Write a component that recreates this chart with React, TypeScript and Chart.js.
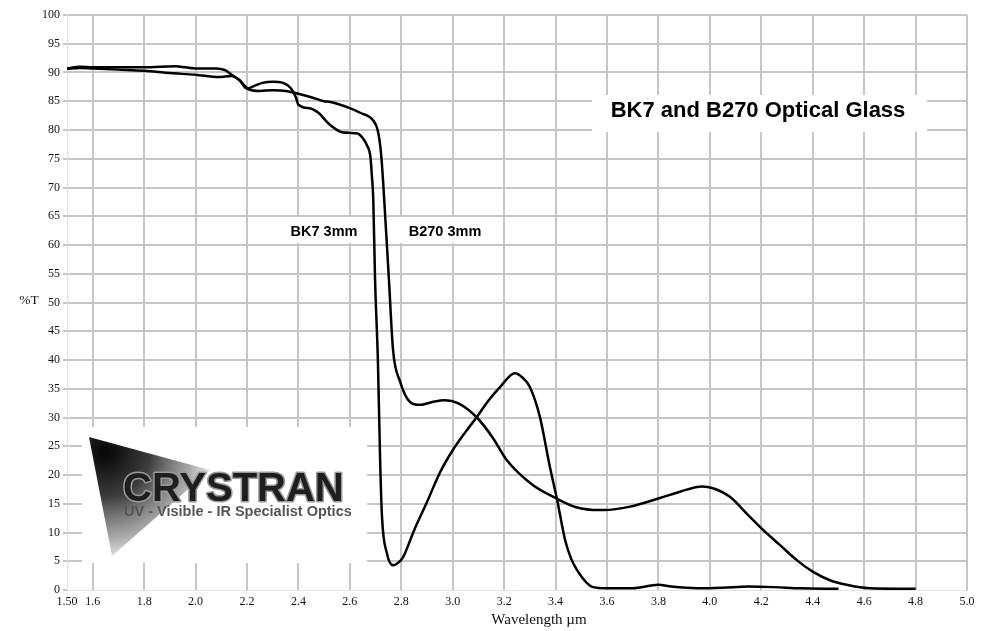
import { useEffect, useRef } from 'react';
import { Chart, registerables } from 'chart.js';

Chart.register(...registerables);

// BK7 3mm transmission curve
const bk7Wavelength = [
  1.50, 1.55, 1.60, 1.70, 1.80, 1.90, 2.00, 2.09, 2.14, 2.17, 2.20, 2.22, 2.26, 2.30, 2.34, 2.37,
  2.39, 2.40, 2.45, 2.48, 2.52, 2.57, 2.60, 2.63, 2.65, 2.667, 2.68, 2.686, 2.691, 2.698, 2.709,
  2.718, 2.725, 2.744, 2.768, 2.79, 2.807, 2.85, 2.90, 2.95, 3.00, 3.05, 3.094, 3.14, 3.184, 3.242,
  3.27, 3.30, 3.339, 3.378, 3.406, 3.437, 3.46, 3.483, 3.52, 3.546, 3.60, 3.70, 3.80, 3.85, 3.95,
  4.05, 4.15, 4.25, 4.35, 4.50,
];
const bk7Transmission = [
  90.6, 90.8, 90.7, 90.5, 90.3, 89.9, 89.6, 89.2, 89.4, 88.7, 87.2, 87.5, 88.2, 88.4, 88.2, 87.3,
  85.7, 84.4, 83.7, 82.9, 81.0, 79.6, 79.5, 79.4, 78.6, 77.3, 75.3, 71.8, 68.0, 54.0, 40.0,
  22.0, 12.7, 6.4, 4.3, 4.8, 5.7, 10.4, 15.3, 20.4, 24.3, 27.5, 30.1, 33.0, 35.3, 37.7,
  37.0, 35.3, 30.1, 21.4, 15.7, 8.7, 5.5, 3.5, 1.3, 0.5, 0.3, 0.3, 0.9, 0.6, 0.3,
  0.4, 0.6, 0.5, 0.3, 0.2,
];

// B270 3mm transmission curve
const b270Wavelength = [
  1.50, 1.55, 1.60, 1.70, 1.80, 1.92, 2.00, 2.08, 2.115, 2.14, 2.17, 2.21, 2.25, 2.30, 2.35, 2.40,
  2.45, 2.50, 2.52, 2.60, 2.64, 2.69, 2.708, 2.72, 2.729, 2.752, 2.768, 2.795, 2.834, 2.873, 2.93,
  2.97, 3.02, 3.094, 3.157, 3.21, 3.31, 3.40, 3.48, 3.57, 3.59, 3.69, 3.806, 3.884, 3.97, 4.012,
  4.078, 4.143, 4.208, 4.273, 4.338, 4.40, 4.467, 4.532, 4.62, 4.80,
];
const b270Transmission = [
  90.7, 91.0, 90.9, 90.9, 90.9, 91.1, 90.7, 90.7, 90.4, 89.6, 88.7, 87.0, 86.8, 86.9, 86.8, 86.3,
  85.7, 85.0, 84.9, 83.8, 83.0, 81.7, 80.0, 76.5, 71.3, 53.9, 41.7, 36.3, 32.7, 32.2, 32.8,
  33.0, 32.5, 30.0, 26.4, 22.6, 18.3, 16.0, 14.4, 13.9, 13.9, 14.5, 16.0, 17.1, 18.0, 17.7,
  16.2, 13.3, 10.4, 7.8, 5.2, 3.2, 1.7, 0.9, 0.3, 0.2,
];

const xTickValues = [1.5, 1.6, 1.8, 2.0, 2.2, 2.4, 2.6, 2.8, 3.0, 3.2, 3.4, 3.6, 3.8, 4.0, 4.2, 4.4, 4.6, 4.8, 5.0];
const xTickLabels = ['1.50', '1.6', '1.8', '2.0', '2.2', '2.4', '2.6', '2.8', '3.0', '3.2', '3.4', '3.6', '3.8', '4.0', '4.2', '4.4', '4.6', '4.8', '5.0'];
const yTickValues = [0, 5, 10, 15, 20, 25, 30, 35, 40, 45, 50, 55, 60, 65, 70, 75, 80, 85, 90, 95, 100];

const chartTitle = 'BK7 and B270 Optical Glass';
const seriesLabels = ['BK7 3mm', 'B270 3mm'];
const yAxisTitle = '%T';
const xAxisTitle = 'Wavelength µm';
const logoName = 'CRYSTRAN';
const logoTagline = 'UV - Visible - IR Specialist Optics';

const GRID = '#c6c6c6';
const SERIF = "'Liberation Serif', 'DejaVu Serif', serif";
const SANS = "'Liberation Sans', Arial, sans-serif";

const overlayPlugin = {
  id: 'overlay',
  beforeDatasetsDraw(chart: any) {
    const ctx = chart.ctx as CanvasRenderingContext2D;
    ctx.save();
    // title box
    ctx.fillStyle = '#ffffff';
    ctx.fillRect(592, 95, 335, 37);
    ctx.fillStyle = '#000';
    ctx.font = `bold 22px ${SANS}`;
    ctx.textAlign = 'center';
    ctx.textBaseline = 'middle';
    ctx.fillText(chartTitle, 758, 111);

    // series label boxes
    ctx.fillStyle = '#ffffff';
    ctx.fillRect(284, 217, 80, 26);
    ctx.fillRect(398, 217, 92, 26);
    ctx.fillStyle = '#000';
    ctx.font = `bold 14.5px ${SANS}`;
    ctx.fillText(seriesLabels[0], 324, 232);
    ctx.fillText(seriesLabels[1], 445, 232);

    // logo
    ctx.fillStyle = '#ffffff';
    ctx.fillRect(82, 427, 285, 136);
    const g = ctx.createRadialGradient(105, 452, 5, 105, 452, 120);
    g.addColorStop(0, 'rgba(10,10,10,1)');
    g.addColorStop(0.35, 'rgba(50,50,50,0.95)');
    g.addColorStop(0.7, 'rgba(130,130,130,0.7)');
    g.addColorStop(1, 'rgba(200,200,200,0.2)');
    ctx.fillStyle = g;
    ctx.beginPath();
    ctx.moveTo(89, 437);
    ctx.lineTo(210, 470);
    ctx.lineTo(112, 556);
    ctx.closePath();
    ctx.fill();

    ctx.textAlign = 'left';
    ctx.textBaseline = 'alphabetic';
    ctx.font = `bold 40px ${SANS}`;
    ctx.lineJoin = 'round';
    ctx.strokeStyle = '#9a9a9a';
    ctx.lineWidth = 3;
    ctx.strokeText(logoName, 123, 501);
    ctx.fillStyle = '#1e1e1e';
    ctx.fillText(logoName, 123, 501);
    ctx.font = `bold 14.5px ${SANS}`;
    ctx.fillStyle = '#555555';
    ctx.fillText(logoTagline, 124, 516);
    ctx.restore();
  },
  afterDraw(chart: any) {
    const ctx = chart.ctx as CanvasRenderingContext2D;
    ctx.save();
    ctx.fillStyle = '#111';
    ctx.textBaseline = 'middle';
    ctx.textAlign = 'center';
    ctx.font = `13.5px ${SERIF}`;
    ctx.fillText(yAxisTitle, 29, 300);
    ctx.font = `15px ${SERIF}`;
    ctx.fillText(xAxisTitle, 539, 620);
    ctx.restore();
  },
};

export default function App() {
  const canvasRef = useRef<HTMLCanvasElement | null>(null);

  useEffect(() => {
    if (!canvasRef.current) return;
    const chart = new Chart(canvasRef.current, {
      type: 'line',
      data: {
        datasets: [
          {
            label: seriesLabels[0],
            data: bk7Wavelength.map((x, i) => ({ x, y: bk7Transmission[i] })),
            borderColor: '#000',
            borderWidth: 2.5,
            pointRadius: 0,
            cubicInterpolationMode: 'monotone',
            fill: false,
          },
          {
            label: seriesLabels[1],
            data: b270Wavelength.map((x, i) => ({ x, y: b270Transmission[i] })),
            borderColor: '#000',
            borderWidth: 2.5,
            pointRadius: 0,
            cubicInterpolationMode: 'monotone',
            fill: false,
          },
        ],
      },
      options: {
        animation: false,
        responsive: false,
        devicePixelRatio: 1,
        layout: { padding: { top: 15, right: 20, left: 0, bottom: 0 } },
        plugins: {
          legend: { display: false },
          tooltip: { enabled: false },
          title: { display: false },
        },
        scales: {
          x: {
            type: 'linear',
            min: 1.5,
            max: 5.0,
            afterBuildTicks: (s: any) => {
              s.ticks = xTickValues.map((v) => ({ value: v }));
            },
            afterFit: (s: any) => {
              s.height = 41;
              s.paddingLeft = 0;
              s.paddingRight = 0;
            },
            ticks: {
              autoSkip: false,
              maxRotation: 0,
              padding: 5,
              color: '#111',
              font: { family: SERIF, size: 12 },
              callback: (v: any) => {
                const i = xTickValues.findIndex((t) => Math.abs(t - Number(v)) < 1e-6);
                return i >= 0 ? xTickLabels[i] : '';
              },
            },
            grid: {
              color: (c: any) => (c.tick && Math.abs(c.tick.value - 1.5) < 1e-6 ? 'rgba(0,0,0,0)' : GRID),
              lineWidth: 2,
              drawTicks: false,
            },
            border: { display: true, color: '#e2e2e2', width: 1 },
          },
          y: {
            type: 'linear',
            min: 0,
            max: 100,
            afterBuildTicks: (s: any) => {
              s.ticks = yTickValues.map((v) => ({ value: v }));
            },
            afterFit: (s: any) => {
              s.width = 67;
              s.paddingTop = 0;
              s.paddingBottom = 0;
            },
            ticks: {
              padding: 3,
              color: '#111',
              font: { family: SERIF, size: 12 },
            },
            grid: {
              color: (c: any) => (c.tick && c.tick.value === 0 ? 'rgba(0,0,0,0)' : GRID),
              lineWidth: 2,
              drawTicks: true,
              tickLength: 4,
              tickColor: GRID,
            },
            border: { display: true, color: '#e2e2e2', width: 1 },
          },
        },
      },
      plugins: [overlayPlugin],
    } as any);
    return () => chart.destroy();
  }, []);

  return (
    <div style={{ position: 'absolute', left: 0, top: 0, width: 987, height: 631, background: '#fff' }}>
      <canvas ref={canvasRef} width={987} height={631} style={{ display: 'block' }} />
    </div>
  );
}
